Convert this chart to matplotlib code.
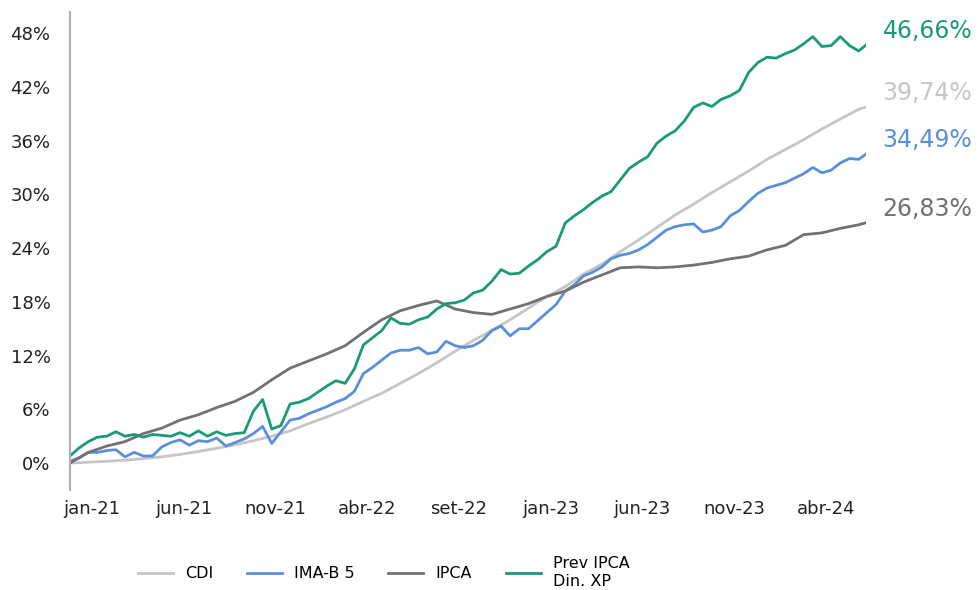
import numpy as np
import matplotlib.pyplot as plt

# eixo x em meses desde o inicio da serie
t_mensal = list(range(44)) + [43.4]
t_quinzenal = [i * 0.5 for i in range(87)] + [43.4]

cdi = [0.0, 0.1, 0.2, 0.33, 0.5, 0.7, 0.97, 1.3, 1.65, 2.05, 2.5, 3.0, 3.6, 4.4,
       5.15, 5.95, 6.9, 7.8, 8.9, 10.0, 11.2, 12.5, 13.7, 14.8, 16.0, 17.3, 18.6,
       19.7, 21.1, 22.2, 23.6, 24.9, 26.3, 27.7, 28.9, 30.2, 31.4, 32.6, 33.9,
       35.0, 36.1, 37.3, 38.4, 39.5, 39.74]

ipca = [0.0, 1.2, 1.9, 2.4, 3.3, 3.9, 4.8, 5.4, 6.2, 6.9, 7.9, 9.3, 10.6, 11.4,
        12.2, 13.1, 14.6, 16.0, 17.0, 17.6, 18.1, 17.2, 16.8, 16.6, 17.2, 17.8,
        18.6, 19.2, 20.2, 21.0, 21.8, 21.9, 21.8, 21.9, 22.1, 22.4, 22.8, 23.1,
        23.8, 24.3, 25.5, 25.7, 26.2, 26.6, 26.83]

imab5 = [0.2, 0.6, 1.2, 1.2, 1.4, 1.5, 0.7, 1.2, 0.8, 0.8, 1.8, 2.3, 2.6, 2.0,
         2.5, 2.4, 2.8, 1.9, 2.3, 2.7, 3.3, 4.1, 2.2, 3.5, 4.8, 5.0, 5.5, 5.9,
         6.3, 6.8, 7.2, 8.0, 10.0, 10.7, 11.5, 12.3, 12.6, 12.6, 12.9, 12.2,
         12.4, 13.6, 13.1, 12.9, 13.1, 13.7, 14.8, 15.3, 14.2, 15.0, 15.0, 15.9,
         16.8, 17.7, 19.2, 19.9, 20.9, 21.3, 21.9, 22.8, 23.2, 23.4, 23.8, 24.4,
         25.2, 26.0, 26.4, 26.6, 26.7, 25.8, 26.0, 26.4, 27.6, 28.2, 29.2, 30.1,
         30.7, 31.0, 31.3, 31.8, 32.3, 33.0, 32.4, 32.7, 33.5, 34.0, 33.9, 34.49]

prev = [0.8, 1.7, 2.4, 2.9, 3.0, 3.5, 3.0, 3.2, 2.9, 3.2, 3.1, 3.0, 3.4, 3.0,
        3.6, 3.0, 3.5, 3.1, 3.3, 3.4, 5.8, 7.1, 3.8, 4.2, 6.6, 6.8, 7.2, 7.9,
        8.6, 9.2, 8.9, 10.5, 13.2, 14.0, 14.8, 16.2, 15.6, 15.5, 16.0, 16.3,
        17.2, 17.8, 17.9, 18.2, 19.0, 19.3, 20.3, 21.6, 21.1, 21.2, 22.0, 22.7,
        23.6, 24.2, 26.8, 27.6, 28.3, 29.1, 29.8, 30.3, 31.6, 32.9, 33.6, 34.2,
        35.7, 36.5, 37.1, 38.2, 39.7, 40.2, 39.8, 40.6, 41.0, 41.6, 43.6, 44.7,
        45.3, 45.2, 45.7, 46.1, 46.8, 47.6, 46.5, 46.6, 47.6, 46.6, 46.0, 46.66]

x_labels = ['jan-21', 'jun-21', 'nov-21', 'abr-22', 'set-22', 'jan-23',
            'jun-23', 'nov-23', 'abr-24']
y_ticks = [0, 6, 12, 18, 24, 30, 36, 42, 48]
end_labels = ['46,66%', '39,74%', '34,49%', '26,83%']

c_cdi = '#c6c6c6'
c_imab = '#5a8fdc'
c_ipca = '#727272'
c_prev = '#1a9a78'

fig = plt.figure(figsize=(9.79, 5.90), dpi=100)
ax = fig.add_axes([70 / 979, 1 - 490 / 590, 796 / 979, 478 / 590])

l1, = ax.plot(t_mensal, cdi, color=c_cdi, lw=2.0, label='CDI')
l2, = ax.plot(t_quinzenal, imab5, color=c_imab, lw=2.0, label='IMA-B 5')
l3, = ax.plot(t_mensal, ipca, color=c_ipca, lw=2.0, label='IPCA')
l4, = ax.plot(t_quinzenal, prev, color=c_prev, lw=2.0, label='Prev IPCA\nDin. XP')

ax.set_xlim(0, 43.4)
ax.set_ylim(-3.0, 50.35)

ax.set_yticks(y_ticks)
ax.set_yticklabels([f'{v}%' for v in y_ticks])
ax.set_xticks([1.2 + 5 * i for i in range(len(x_labels))])
ax.set_xticklabels(x_labels)
ax.tick_params(axis='both', length=0, labelsize=13, colors='#222222')
ax.tick_params(axis='y', pad=14)
ax.tick_params(axis='x', pad=7)

for s in ['top', 'right', 'bottom']:
    ax.spines[s].set_visible(False)
ax.spines['left'].set_color('#b0b0b0')
ax.spines['left'].set_linewidth(1.5)

finais = [prev[-1], cdi[-1], imab5[-1], ipca[-1]]
cores = [c_prev, c_cdi, c_imab, c_ipca]
for txt, v, c in zip(end_labels, finais, cores):
    ax.annotate(txt, xy=(1.0, v), xycoords=('axes fraction', 'data'),
                xytext=(12, 10), textcoords='offset points',
                ha='left', va='center', fontsize=17, color=c,
                annotation_clip=False)

fig.legend(handles=[l1, l2, l3, l4], loc='center', bbox_to_anchor=(0.392, 0.03),
           ncol=4, frameon=False, fontsize=11.5, handlelength=2.2,
           columnspacing=2.1, handletextpad=0.75)

fig.savefig('out.png', dpi=100)
